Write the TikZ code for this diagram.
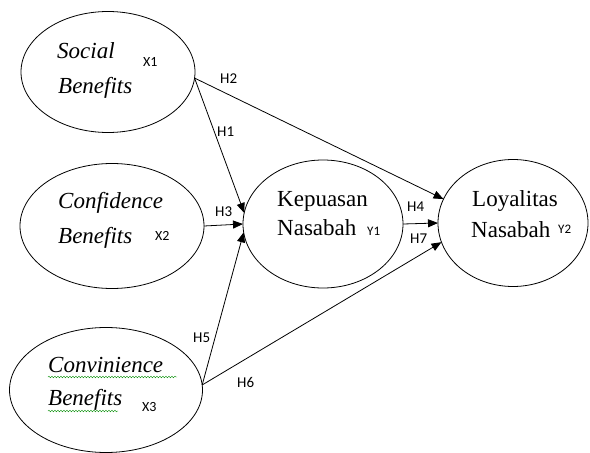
\documentclass[tikz,border=0pt]{standalone}
\usepackage{fontspec}
\setmainfont{Liberation Serif}
\newfontfamily\labelfont{Carlito}
\usetikzlibrary{arrows.meta,shapes.geometric,decorations.pathmorphing}
\tikzset{
    latent/.style = {draw, ellipse, line width=0.8pt, inner sep=0pt, outer sep=0pt},
    hyp arrow/.style = {line width=0.8pt, -{Triangle[length=10pt,width=8pt]}},
    word/.style = {anchor=base west, inner sep=0pt, font=\fontsize{23}{23}\selectfont},
    iword/.style = {word, font=\fontsize{23}{23}\selectfont\itshape},
    hyp/.style = {anchor=base west, inner sep=0pt, font=\labelfont\fontsize{15}{15}\selectfont},
    var/.style = {hyp, font=\labelfont\fontsize{14}{14}\selectfont},
    squiggle/.style = {green!55!black, decorate, decoration={snake, amplitude=0.8pt, segment length=3pt}}
}

\begin{document}
\begin{tikzpicture}[x=1pt, y=-1pt]
        \useasboundingbox (0,0) rectangle (590,453);

        % constructs
        \node[latent, minimum width=174pt, minimum height=121pt] (X1) at (108,72) {};
        \node[latent, minimum width=184pt, minimum height=125pt] (X2) at (112,226) {};
        \node[latent, minimum width=193pt, minimum height=125pt] (X3) at (106,390) {};
        \node[latent, minimum width=160pt, minimum height=128pt] (Y1) at (323,224) {};
        \node[latent, minimum width=150pt, minimum height=127pt] (Y2) at (513,223) {};

        \node[iword] (social) at (57,58) {Social};
        \node[iword] (benefitsA) at (58,93) {Benefits};
        \node[var] (x1) at (143,66) {X1};
        \node[iword] (confidence) at (58,208) {Confidence};
        \node[iword] (benefitsB) at (58,243) {Benefits};
        \node[var] (x2) at (155,240) {X2};
        \node[iword] (convinience) at (48,372) {Convinience};
        \node[iword] (benefitsC) at (48,405) {Benefits};
        \node[var] (x3) at (142,411) {X3};
        \node[word] (kepuasan) at (277,206) {Kepuasan};
        \node[word] (nasabahA) at (277,235) {Nasabah};
        \node[var, font=\labelfont\fontsize{13}{13}\selectfont] (y1) at (367,235) {Y1};
        \node[word] (loyalitas) at (472,206) {Loyalitas};
        \node[word] (nasabahB) at (471,237) {Nasabah};
        \node[var, font=\labelfont\fontsize{13}{13}\selectfont] (y2) at (558,233) {Y2};

        % spell check marks
        \draw[squiggle] (48,377) -- (177,377);
        \draw[squiggle] (48,411) -- (118,411);

        % hypotheses
        \draw[hyp arrow] (X1.356) -- (Y1.172);
        \draw[hyp arrow] (X1.356) -- (Y2.161);
        \draw[hyp arrow] (X2.east) -- (Y1.west);
        \draw[hyp arrow] (X3.3) -- (Y1.186);
        \draw[hyp arrow] (X3.3) -- (Y2.195);
        \draw[hyp arrow] (Y1.east) -- (Y2.west);

        \node[hyp] (h1) at (217,136) {H1};
        \node[hyp] (h2) at (220,83) {H2};
        \node[hyp] (h3) at (215,216) {H3};
        \node[hyp] (h4) at (407,211) {H4};
        \node[hyp] (h5) at (193,342) {H5};
        \node[hyp] (h6) at (237,387) {H6};
        \node[hyp] (h7) at (410,243) {H7};
\end{tikzpicture}
\end{document}
